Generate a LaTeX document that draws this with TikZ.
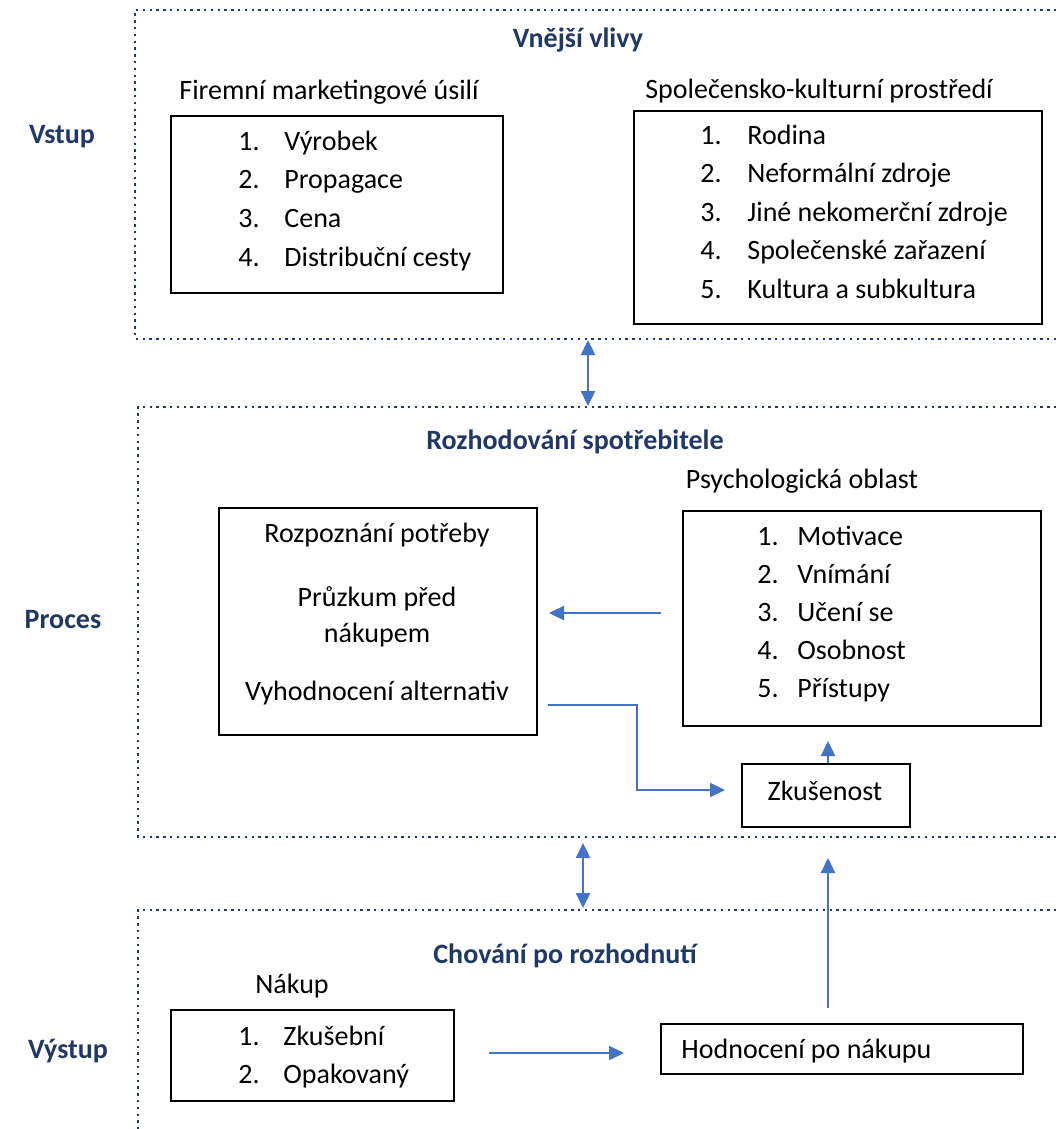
\documentclass[tikz,border=0pt]{standalone}
\usepackage{fontspec}
\setmainfont{Carlito}
\usetikzlibrary{arrows.meta}
\definecolor{navy}{HTML}{1F3864}
\definecolor{flowblue}{HTML}{4472C4}
\begin{document}
\begin{tikzpicture}[x=0.5pt,y=-0.5pt,font=\fontsize{14}{16}\selectfont]
  \tikzset{panel/.style={draw=navy, line width=1.2pt, dash pattern=on 1.2pt off 2.2pt},
    box/.style={draw=black, line width=1.2pt, inner sep=0pt, anchor=north west},
    heading/.style={font=\fontsize{14}{16}\selectfont\bfseries, text=navy, anchor=base},
    boxlabel/.style={anchor=base},
    listitem/.style={anchor=base west, inner xsep=0pt},
    flow/.style={draw=flowblue, line width=1.2pt, -{Triangle[length=7.5pt,width=7pt]}},
    twoway/.style={flow, {Triangle[length=7.5pt,width=7pt]}-{Triangle[length=7.5pt,width=7pt]}}}
  \useasboundingbox (0,0) rectangle (1059,1129);
  % panels
  \draw[panel] (1070,10) -- (135,10) -- (135,339) -- (1070,339);
  \draw[panel] (1070,407) -- (138,407) -- (138,837) -- (1070,837);
  \draw[panel] (1070,910) -- (138,910) -- (138,1140);
  % row labels and headings
  \node[heading] (vstup) at (62,143) {Vstup};
  \node[heading] (proces) at (63,628) {Proces};
  \node[heading] (vystup) at (68,1058) {Výstup};
  \node[heading] (vlivy) at (578,48) {Vnější vlivy};
  \node[heading] (rozhodovani) at (575,449) {Rozhodování spotřebitele};
  \node[heading] (chovani) at (565,963) {Chování po rozhodnutí};
  % external influences
  \node[boxlabel] (mkt-l) at (329,100) {Firemní marketingové úsilí};
  \node[box, minimum width=166pt, minimum height=88.5pt] (mkt) at (170,115) {};
  \foreach \t [count=\i] in {Výrobek, Propagace, Cena, Distribuční cesty} {
    \node[listitem] (mkt-n\i) at (238,{111.3+38.7*\i}) {\i.};
    \node[listitem] (mkt-t\i) at (284,{111.3+38.7*\i}) {\t};
  }
  \node[boxlabel] (soc-l) at (819,98) {Společensko-kulturní prostředí};
  \node[box, minimum width=204pt, minimum height=106.5pt] (soc) at (633,110) {};
  \foreach \t [count=\i] in {Rodina, Neformální zdroje, Jiné nekomerční zdroje, Společenské zařazení, Kultura a subkultura} {
    \node[listitem] (soc-n\i) at (700,{105.5+38.5*\i}) {\i.};
    \node[listitem] (soc-t\i) at (747,{105.5+38.5*\i}) {\t};
  }
  % decision
  \node[box, minimum width=159pt, minimum height=113.5pt] (rozh) at (218,507) {};
  \node[boxlabel] (rozh-1) at (377,542) {Rozpoznání potřeby};
  \node[align=center, font=\fontsize{14}{18}\selectfont] (rozh-2) at (377,617) {Průzkum před\\nákupem};
  \node[boxlabel] (rozh-3) at (377,700) {Vyhodnocení alternativ};
  \node[boxlabel] (psych-l) at (802,488) {Psychologická oblast};
  \node[box, minimum width=179pt, minimum height=107.5pt] (psych) at (682,510) {};
  \foreach \t [count=\i] in {Motivace, Vnímání, Učení se, Osobnost, Přístupy} {
    \node[listitem] (psych-n\i) at (757,{508+37.8*\i}) {\i.};
    \node[listitem] (psych-t\i) at (797,{508+37.8*\i}) {\t};
  }
  \node[box, minimum width=84pt, minimum height=31.5pt] (zkus) at (741,763) {};
  \node[boxlabel] (zkus-t) at (825,800) {Zkušenost};
  % after decision
  \node[boxlabel] (nakup-l) at (292,993) {Nákup};
  \node[box, minimum width=141.5pt, minimum height=45.5pt] (nakup) at (170,1009) {};
  \foreach \t [count=\i] in {Zkušební, Opakovaný} {
    \node[listitem] (nakup-n\i) at (238,{1007+38*\i}) {\i.};
    \node[listitem] (nakup-t\i) at (283,{1007+38*\i}) {\t};
  }
  \node[box, minimum width=181pt, minimum height=25pt] (hodn) at (660,1023) {};
  \node[listitem] (hodn-t) at (681,1058) {Hodnocení po nákupu};
  % connectors
  \coordinate (p1) at (588,339);
  \coordinate (p2) at (588,407);
  \coordinate (p3) at (583,837);
  \coordinate (p4) at (583,910);
  \draw[twoway, shorten <=0.5pt, shorten >=0.5pt] (p1) -- (p2);
  \draw[twoway, shorten <=3pt, shorten >=1pt] (p3) -- (p4);
  \coordinate (a1) at (661,613);
  \coordinate (a2) at (549,613);
  \draw[flow] (a1) -- (a2);
  \coordinate (e1) at (548,705);
  \coordinate (e2) at (725,790);
  \draw[flow] (e1) -| (637,747.5) |- (e2);
  \draw[flow] (zkus.north -| 828,0) -- ++(0,-22);
  \coordinate (h1) at (828,1008);
  \coordinate (h2) at (828,858);
  \draw[flow] (h1) -- (h2);
  \coordinate (n1) at (489,1053);
  \coordinate (n2) at (624,1053);
  \draw[flow] (n1) -- (n2);
\end{tikzpicture}
\end{document}
